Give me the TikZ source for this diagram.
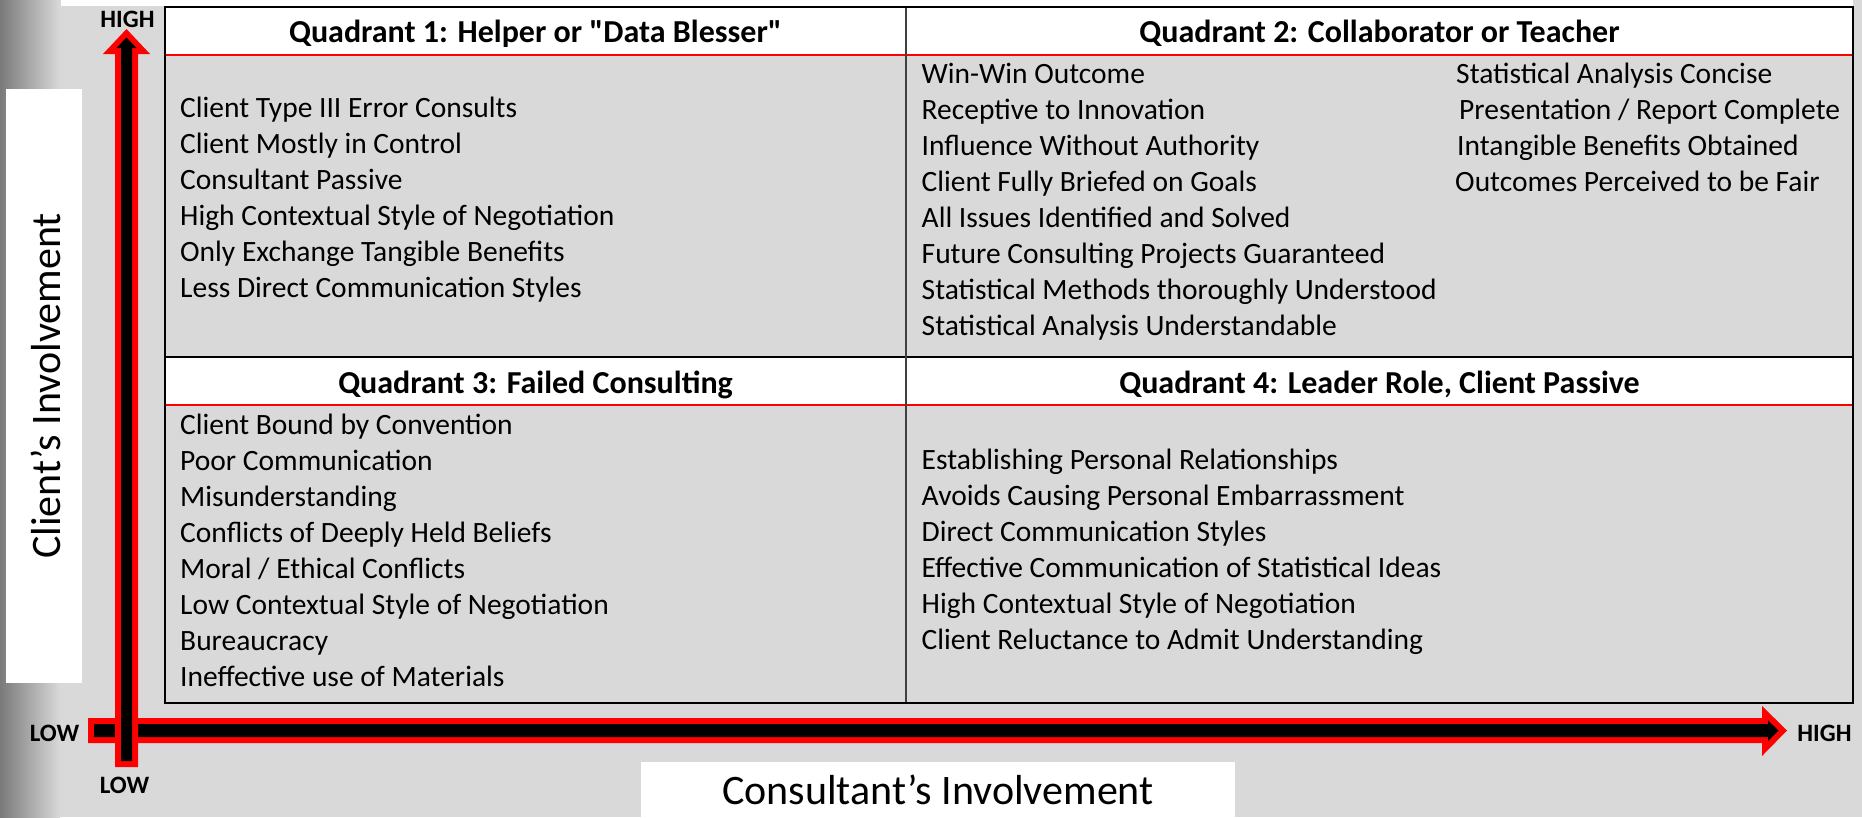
\documentclass[tikz,border=0pt]{standalone}
\usepackage{fontspec}
\setmainfont{Carlito}
\definecolor{bg}{HTML}{D9D9D9}
\definecolor{gradL}{HTML}{7A7A7A}
\definecolor{midline}{HTML}{404040}
\begin{document}
\begin{tikzpicture}[x=1pt,y=-1pt,
  body/.style={anchor=base west,inner sep=0pt,font=\fontsize{29.5}{36}\selectfont},
  head/.style={anchor=base,inner sep=0pt,font=\bfseries\fontsize{32}{38}\selectfont},
  axlab/.style={anchor=base,inner sep=0pt,font=\bfseries\fontsize{25}{30}\selectfont},
  axtitle/.style={anchor=base,inner sep=0pt,font=\fontsize{42}{50}\selectfont}]
\useasboundingbox (0,0) rectangle (1862,817);
% background
\fill[bg] (0,0) rectangle (1862,817);
\shade[left color=gradL,right color=bg] (0,0) rectangle (60,817);
\fill[white] (61,0) rectangle (1853,6);
\fill[white] (6,89) rectangle (82,683);
\fill[white] (641,762) rectangle (1235,817);
% table
\fill[white] (165,7) rectangle (1853,55);
\fill[white] (165,357) rectangle (1853,405);
\draw[red,line width=2pt] (165,55) -- (1853,55);
\draw[red,line width=2pt] (165,405) -- (1853,405);
\draw[black,line width=1.5pt] (165,357) -- (1853,357);
\draw[midline,line width=2pt] (906,7) -- (906,703);
\draw[black,line width=2pt] (165,7) rectangle (1853,703);
% horizontal arrow
\fill[red] (88,718) -- (1762,718) -- (1762,706) -- (1787,730.5) -- (1762,756) -- (1762,743) -- (88,743) -- cycle;
\fill[black] (94,724) -- (1768,724) -- (1768,720.5) -- (1778.5,730.5) -- (1768,741) -- (1768,737) -- (94,737) -- cycle;
% vertical arrow
\fill[red] (115,767) -- (115,54) -- (103,54) -- (126.5,29) -- (150,54) -- (138,54) -- (138,767) -- cycle;
\fill[black] (121,761) -- (121,48) -- (116.5,48) -- (126.5,37.5) -- (136.5,48) -- (132,48) -- (132,761) -- cycle;
% axis labels
\node[axlab] (yhigh) at (127.5,27) {HIGH};
\node[axlab] (ylow) at (124.5,793) {LOW};
\node[axlab] (xlow) at (54.5,741) {LOW};
\node[axlab] (xhigh) at (1824.5,741) {HIGH};
\node[axtitle] (xtitle) at (938,804) {Consultant’s Involvement};
\node[axtitle,rotate=90] (ytitle) at (60,386) {Client’s Involvement};
% headers
\node[head] (h1) at (535.5,42) {Quadrant 1: Helper or \textquotedbl Data Blesser\textquotedbl};
\node[head] (h2) at (1379.5,42) {Quadrant 2: Collaborator or Teacher};
\node[head] (h3) at (535.5,393) {Quadrant 3: Failed Consulting};
\node[head] (h4) at (1379.5,393) {Quadrant 4: Leader Role, Client Passive};
% bodies
\foreach \t [count=\i] in {Client Type III Error Consults,Client Mostly in Control,Consultant Passive,High Contextual Style of Negotiation,Only Exchange Tangible Benefits,Less Direct Communication Styles}
  \node[body] (qa\i) at (180,{117+36*(\i-1)}) {\t};
\foreach \t [count=\i] in {Win-Win Outcome,Receptive to Innovation,Influence Without Authority,Client Fully Briefed on Goals,All Issues Identified and Solved,Future Consulting Projects Guaranteed,Statistical Methods thoroughly Understood,Statistical Analysis Understandable}
  \node[body] (qb\i) at (921.5,{83+36*(\i-1)}) {\t};
\node[body] (qc1) at (1456,83) {Statistical Analysis Concise};
\node[body] (qc2) at (1459,119) {Presentation / Report Complete};
\node[body] (qc3) at (1457,155) {Intangible Benefits Obtained};
\node[body] (qc4) at (1455,191) {Outcomes Perceived to be Fair};
\foreach \t [count=\i] in {Client Bound by Convention,Poor Communication,Misunderstanding,Conflicts of Deeply Held Beliefs,Moral / Ethical Conflicts,Low Contextual Style of Negotiation,Bureaucracy,Ineffective use of Materials}
  \node[body] (qd\i) at (180,{434+36*(\i-1)}) {\t};
\foreach \t [count=\i] in {Establishing Personal Relationships,Avoids Causing Personal Embarrassment,Direct Communication Styles,Effective Communication of Statistical Ideas,High Contextual Style of Negotiation,Client Reluctance to Admit Understanding}
  \node[body] (qe\i) at (921.5,{469+36*(\i-1)}) {\t};
\end{tikzpicture}
\end{document}
